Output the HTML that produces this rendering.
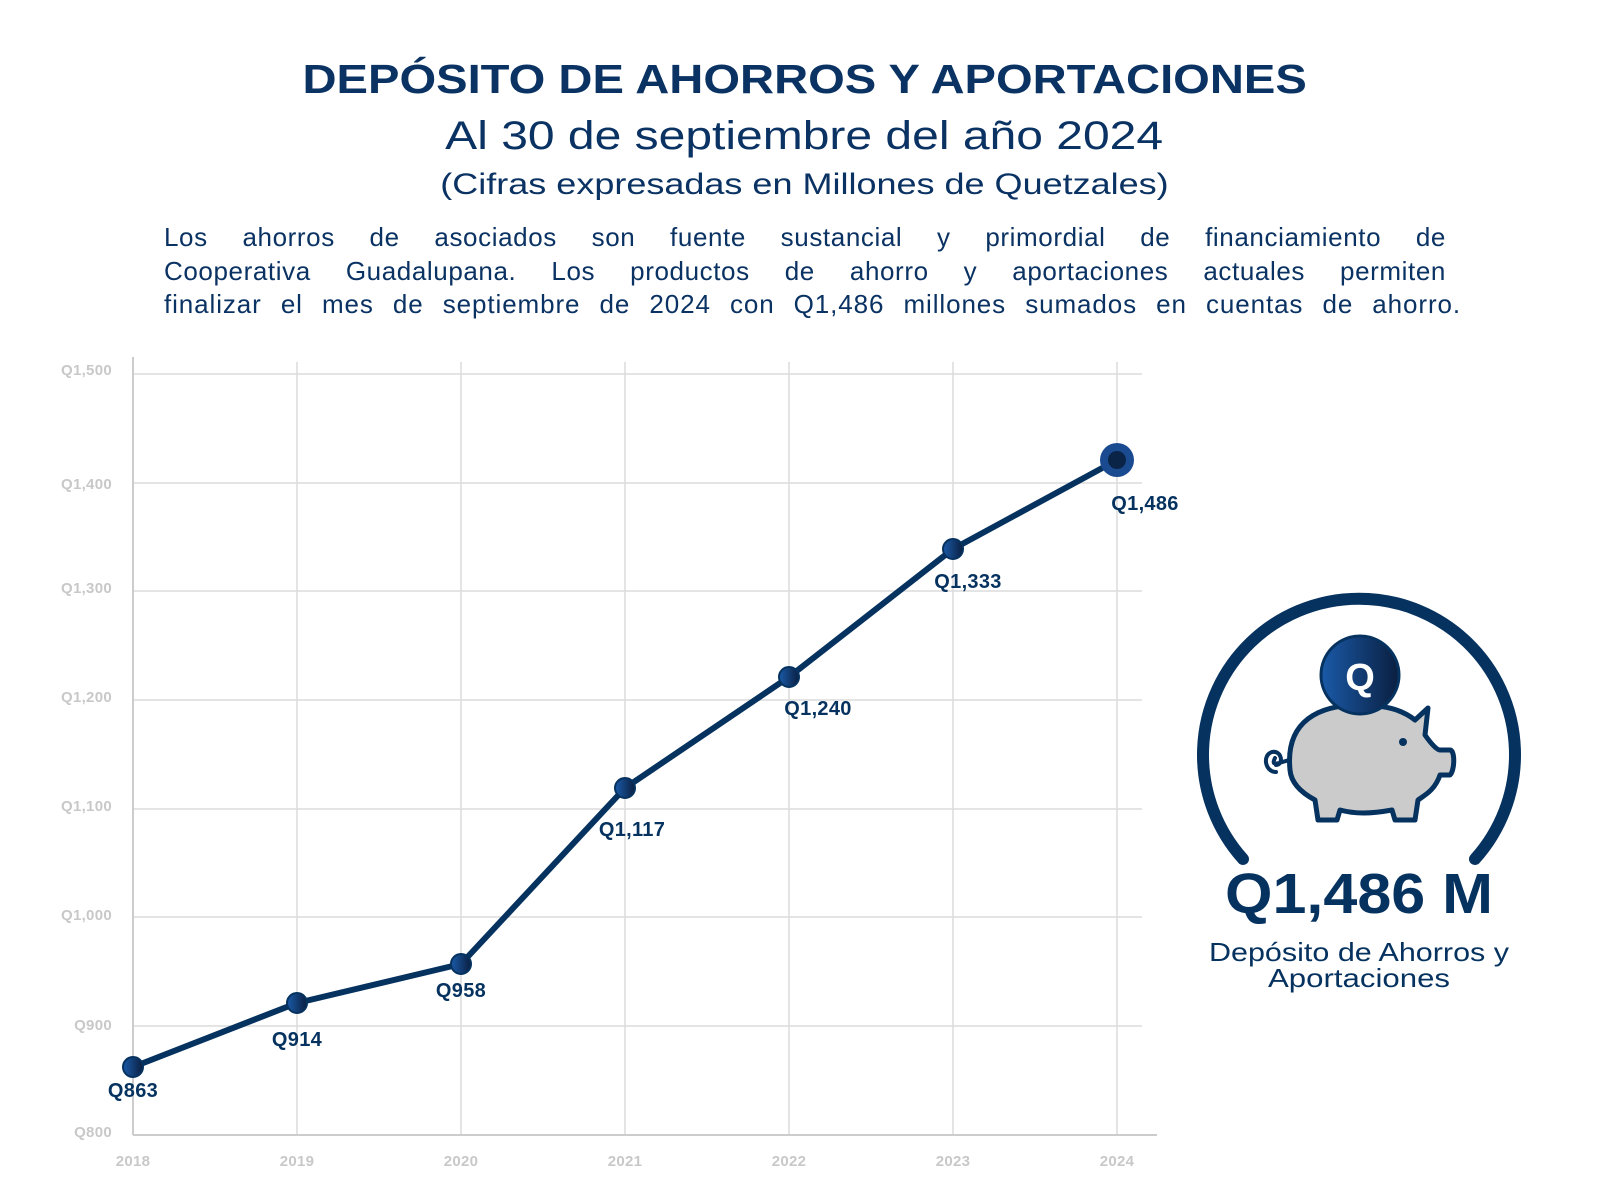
<!DOCTYPE html>
<html><head><meta charset="utf-8"><style>
body{margin:0;background:#fff;width:1600px;height:1202px;overflow:hidden;font-family:"Liberation Sans",sans-serif;color:#0a3263}
.t{position:absolute;left:0;width:1600px;text-align:center;white-space:nowrap}
.t span{display:inline-block}
.pl{position:absolute;left:164px;font-size:26px;height:34px;text-align:justify;text-align-last:justify;white-space:normal;letter-spacing:0.6px}
</style></head><body>
<div class="t" style="top:56px;font-size:41px;font-weight:bold;left:5px"><span style="transform:scaleX(1.15)">DEPÓSITO DE AHORROS Y APORTACIONES</span></div>
<div class="t" style="top:114px;font-size:40px;left:4px"><span style="transform:scaleX(1.2)">Al 30 de septiembre del año 2024</span></div>
<div class="t" style="top:168px;font-size:30px;left:4px"><span style="transform:scaleX(1.2)">(Cifras expresadas en Millones de Quetzales)</span></div>
<div class="pl" style="top:222px;width:1282px">Los ahorros de asociados son fuente sustancial y primordial de financiamiento de</div>
<div class="pl" style="top:256px;width:1282px">Cooperativa Guadalupana. Los productos de ahorro y aportaciones actuales permiten</div>
<div class="pl" style="top:289px;width:1297px;letter-spacing:0.9px">finalizar el mes de septiembre de 2024 con Q1,486 millones sumados en cuentas de ahorro.</div>
<svg width="1600" height="1202" style="position:absolute;left:0;top:0" font-family="Liberation Sans, sans-serif">
<defs><linearGradient id="g" x1="0" x2="1"><stop offset="0" stop-color="#1a5aa8"/><stop offset="1" stop-color="#0a1f40"/></linearGradient></defs>
<g stroke="#dcdcdc" stroke-width="1.5">
<line x1="133" y1="374" x2="1142" y2="374"/><line x1="133" y1="483" x2="1142" y2="483"/><line x1="133" y1="591" x2="1142" y2="591"/><line x1="133" y1="700" x2="1142" y2="700"/><line x1="133" y1="809" x2="1142" y2="809"/><line x1="133" y1="917" x2="1142" y2="917"/><line x1="133" y1="1026" x2="1142" y2="1026"/>
<line x1="297" y1="362" x2="297" y2="1135"/><line x1="461" y1="362" x2="461" y2="1135"/><line x1="625" y1="362" x2="625" y2="1135"/><line x1="789" y1="362" x2="789" y2="1135"/><line x1="953" y1="362" x2="953" y2="1135"/><line x1="1117" y1="362" x2="1117" y2="1135"/>
</g>
<line x1="133" y1="357" x2="133" y2="1135" stroke="#ccc" stroke-width="2"/>
<line x1="133" y1="1135" x2="1157" y2="1135" stroke="#ccc" stroke-width="2"/>
<g fill="#c8c8c8" font-size="15" font-weight="bold" text-anchor="end" letter-spacing="0.3">
<text x="112" y="375">Q1,500</text><text x="112" y="489">Q1,400</text><text x="112" y="593">Q1,300</text><text x="112" y="702">Q1,200</text><text x="112" y="811">Q1,100</text><text x="112" y="920">Q1,000</text><text x="112" y="1030">Q900</text><text x="112" y="1137">Q800</text>
</g>
<g fill="#c8c8c8" font-size="15" font-weight="bold" text-anchor="middle" letter-spacing="0.3">
<text x="133" y="1166">2018</text><text x="297" y="1166">2019</text><text x="461" y="1166">2020</text><text x="625" y="1166">2021</text><text x="789" y="1166">2022</text><text x="953" y="1166">2023</text><text x="1117" y="1166">2024</text>
</g>
<polyline points="133,1067 297,1003 461,964 625,788 789,677 953,549 1117,460" fill="none" stroke="#06325f" stroke-width="6" stroke-linejoin="round"/>
<g fill="url(#g)" stroke="#06325f" stroke-width="2">
<circle cx="133" cy="1067" r="10"/><circle cx="297" cy="1003" r="10"/><circle cx="461" cy="964" r="10"/><circle cx="625" cy="788" r="10"/><circle cx="789" cy="677" r="10"/><circle cx="953" cy="549" r="10"/>
</g>
<circle cx="1117" cy="460" r="17" fill="#1a4a8f"/><circle cx="1117" cy="460" r="9" fill="#0a2448"/>
<g fill="#06325f" font-size="20" font-weight="bold" text-anchor="middle" letter-spacing="0.3">
<text x="133" y="1097">Q863</text><text x="297" y="1046">Q914</text><text x="461" y="997">Q958</text><text x="632" y="836">Q1,117</text><text x="818" y="715">Q1,240</text><text x="968" y="588">Q1,333</text><text x="1145" y="510">Q1,486</text>
</g>
<path d="M1243,859 A156,156 0 1 1 1475,859" fill="none" stroke="#06325f" stroke-width="12" stroke-linecap="round"/>
<path d="M1290,770 C1285,720 1320,705 1360,705 C1390,705 1405,712 1415,720 L1428,708 L1425,735 C1432,745 1437,750 1440,750 L1450,750 C1455,750 1455,770 1450,775 L1440,775 C1435,790 1425,795 1418,800 L1415,820 L1395,820 L1392,810 C1370,814 1355,814 1340,810 L1337,820 L1318,820 L1315,800 C1300,792 1291,782 1290,770 Z" fill="#cbcbcb" stroke="#06325f" stroke-width="5" stroke-linejoin="round"/>
<path d="M1290,760 C1280,762 1270,768 1275,758 M1276,772 C1265,772 1262,755 1272,752 C1282,750 1284,765 1276,765" fill="none" stroke="#06325f" stroke-width="4" stroke-linecap="round"/>
<circle cx="1403" cy="742" r="4" fill="#06325f"/>
<circle cx="1360" cy="675" r="39" fill="url(#g)" stroke="#06325f" stroke-width="3"/>
<text x="1360" y="690" fill="#fff" font-size="38" font-weight="bold" text-anchor="middle">Q</text>
<text x="1359" y="913" fill="#06325f" font-size="57" font-weight="bold" text-anchor="middle" textLength="268" lengthAdjust="spacingAndGlyphs">Q1,486 M</text>
<text x="1359" y="961" fill="#06325f" font-size="26" text-anchor="middle" textLength="300" lengthAdjust="spacingAndGlyphs">Depósito de Ahorros y</text>
<text x="1359" y="987" fill="#06325f" font-size="26" text-anchor="middle" textLength="182" lengthAdjust="spacingAndGlyphs">Aportaciones</text>
</svg>
</body></html>
